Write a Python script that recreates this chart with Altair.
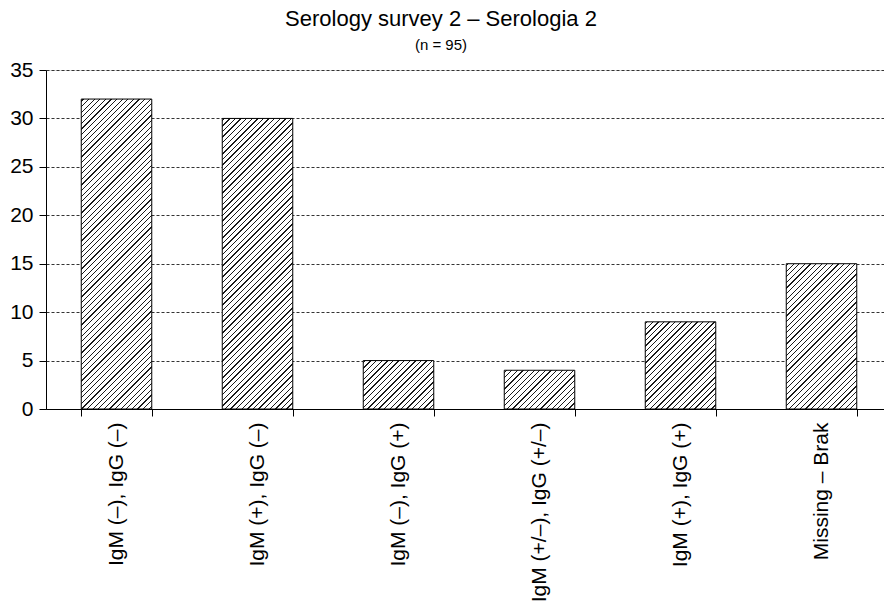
import altair as alt
import pandas as pd

# ---- data ----
categories = [
    "IgM (–), IgG (–)",
    "IgM (+), IgG (–)",
    "IgM (–), IgG (+)",
    "IgM (+/–), IgG (+/–)",
    "IgM (+), IgG (+)",
    "Missing – Brak",
]
counts = [32, 30, 5, 4, 9, 15]
y_ticks = [0, 5, 10, 15, 20, 25, 30, 35]
title_text = "Serology survey 2 – Serologia 2"
subtitle_text = "(n = 95)"

# ---- layout ----
PLOT_W = 838          # visible plot width
X_RANGE = 846         # band range (reference is clipped at the right edge)
PLOT_H = 339
Y_MAX = 35
PAD_INNER = 0.5
PAD_OUTER = 0.25
FONT = "Liberation Sans"

step = X_RANGE / (len(categories) - PAD_INNER + 2 * PAD_OUTER)
bar_w = step * (1 - PAD_INNER)

df = pd.DataFrame({"cat": categories, "count": counts})


def hatch(h, period=5.6, thick=1.3, ink="#1a1a1a"):
    """Diagonal (/) hatch as a hard-stop linear gradient for a bar of pixel height h."""
    L = bar_w + h
    r = h / bar_w
    s = L / (bar_w * (1 + r * r))
    stops = [{"offset": 0, "color": "white"}]
    c = 1.5
    while c < L:
        c2 = min(c + thick, L)
        stops += [
            {"offset": c / L, "color": "white"},
            {"offset": c / L, "color": ink},
            {"offset": c2 / L, "color": ink},
            {"offset": c2 / L, "color": "white"},
        ]
        c += period
    stops.append({"offset": 1, "color": "white"})
    return {"gradient": "linear", "x1": 0, "y1": 0, "x2": s, "y2": s * r, "stops": stops}


fill_enc = {
    "condition": [
        {"test": f"datum.cat === '{cat}'", "value": hatch(v / Y_MAX * PLOT_H)}
        for cat, v in zip(categories, counts)
    ],
    "value": "white",
}

chart = (
    alt.Chart(df)
    .mark_bar(stroke="black", strokeWidth=1)
    .encode(
        x=alt.X(
            "cat:N",
            sort=categories,
            scale=alt.Scale(range=[0, X_RANGE], paddingInner=PAD_INNER, paddingOuter=PAD_OUTER),
            axis=alt.Axis(
                title=None,
                labelAngle=270,
                labelFont=FONT,
                labelFontSize=21,
                labelColor="black",
                labelPadding=6,
                labelLimit=0,
                tickBand="extent",
                tickSize=7,
                tickColor="black",
                domainColor="black",
                grid=False,
            ),
        ),
        y=alt.Y(
            "count:Q",
            scale=alt.Scale(domain=[0, Y_MAX], nice=False),
            axis=alt.Axis(
                title=None,
                values=y_ticks,
                labelFont=FONT,
                labelFontSize=21,
                labelColor="black",
                labelPadding=6,
                tickSize=7,
                tickColor="black",
                domainColor="black",
                grid=True,
                gridColor="#333333",
                gridDash=[3, 2],
                gridWidth=1,
            ),
        ),
        fill=fill_enc,
    )
    .properties(
        width=PLOT_W,
        height=PLOT_H,
        title=alt.TitleParams(
            text=title_text,
            subtitle=subtitle_text,
            font=FONT,
            fontSize=22,
            fontWeight="normal",
            color="black",
            subtitleFont=FONT,
            subtitleFontSize=15,
            subtitleColor="black",
            subtitlePadding=7,
            anchor="middle",
            dx=-24,
            offset=5,
        ),
        autosize=alt.AutoSizeParams(type="none"),
        padding={"left": 46, "top": 70, "right": 0, "bottom": 195},
    )
    .configure_view(stroke=None)
    .configure(background="white")
)

chart.save("out.html", embed_options={"renderer": "svg", "actions": False})
